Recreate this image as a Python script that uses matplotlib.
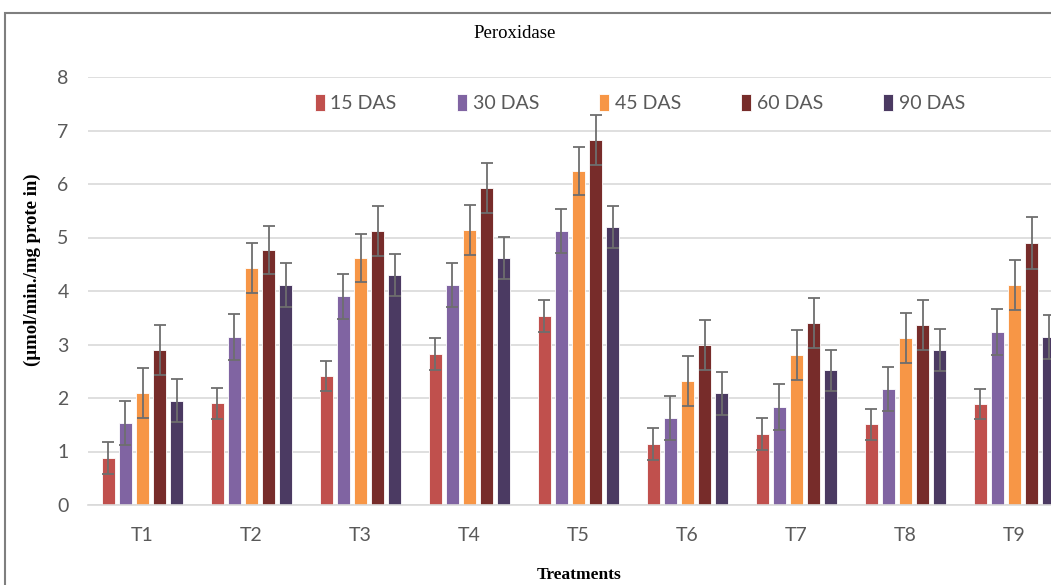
import numpy as np
import matplotlib.pyplot as plt
from matplotlib.patches import Rectangle

# data
treatments = ["T1", "T2", "T3", "T4", "T5", "T6", "T7", "T8", "T9"]
series = ["15 DAS", "30 DAS", "45 DAS", "60 DAS", "90 DAS"]
das15 = [0.88, 1.90, 2.41, 2.82, 3.53, 1.14, 1.33, 1.51, 1.89]
das30 = [1.53, 3.14, 3.90, 4.11, 5.12, 1.63, 1.83, 2.17, 3.23]
das45 = [2.10, 4.43, 4.62, 5.14, 6.24, 2.32, 2.80, 3.12, 4.11]
das60 = [2.90, 4.77, 5.12, 5.92, 6.82, 2.99, 3.40, 3.36, 4.90]
das90 = [1.95, 4.11, 4.30, 4.62, 5.20, 2.09, 2.52, 2.90, 3.14]
err15 = [0.30, 0.29, 0.28, 0.30, 0.30, 0.30, 0.30, 0.29, 0.28]
err30 = [0.41, 0.43, 0.42, 0.41, 0.41, 0.41, 0.43, 0.41, 0.43]
err45 = [0.47, 0.47, 0.45, 0.46, 0.45, 0.47, 0.47, 0.47, 0.47]
err60 = [0.47, 0.45, 0.47, 0.47, 0.47, 0.47, 0.47, 0.47, 0.48]
err90 = [0.40, 0.41, 0.39, 0.39, 0.39, 0.40, 0.38, 0.39, 0.41]

values = [das15, das30, das45, das60, das90]
errors = [err15, err30, err45, err60, err90]
colors = ["#C0504D", "#8064A2", "#F79646", "#772C2A", "#4B3A62"]

fig = plt.figure(figsize=(10.51, 5.85), dpi=100)
fig.patch.set_facecolor("white")

# chart frame (cropped Excel chart)
fig.patches.append(Rectangle((5 / 1051, -0.1), 1.2, 1 - 13 / 585 + 0.1,
                             transform=fig.transFigure, fill=False,
                             edgecolor="#7f7f7f", lw=1.5))

# plot area runs past the right edge, like the cropped original
ax = fig.add_axes([88 / 1051, 1 - 505 / 585, 981 / 1051, 428 / 585])

x = np.arange(len(treatments))
pitch = 0.156
width = 0.124
for i, (vals, errs, col, name) in enumerate(zip(values, errors, colors, series)):
    ax.bar(x + (i - 2) * pitch, vals, width, color=col, edgecolor="white",
           linewidth=0.6, label=name, zorder=2)
    ax.errorbar(x + (i - 2) * pitch, vals, yerr=errs, fmt="none",
                ecolor="#6e6e6e", elinewidth=1.3, capsize=4.3, capthick=1.3,
                zorder=3)

ax.set_xlim(-0.5, len(treatments) - 0.5)
ax.set_ylim(0, 8)
ax.set_yticks(range(0, 9))
ax.set_xticks(x)
ax.set_xticklabels(treatments)
ax.yaxis.grid(True, color="#D9D9D9", lw=1.2, zorder=0)
ax.set_axisbelow(True)
for s in ["top", "right", "left"]:
    ax.spines[s].set_visible(False)
ax.spines["bottom"].set_color("#D9D9D9")
ax.spines["bottom"].set_linewidth(1.2)
ax.tick_params(axis="both", length=0, labelsize=14, labelcolor="#595959")
ax.tick_params(axis="x", pad=16)
ax.tick_params(axis="y", pad=14)
for lab in ax.get_xticklabels() + ax.get_yticklabels():
    lab.set_family("Lato")

fig.text(515 / 1051, 1 - 33 / 585, "Peroxidase", ha="center", va="center",
         family="Liberation Serif", fontsize=13.5)
fig.text(32 / 1051, 1 - 270 / 585, "(µmol/min./mg prote in)", rotation=90,
         ha="center", va="center", family="Liberation Serif",
         fontweight="bold", fontsize=13.5)
fig.text(579 / 1051, 1 - 575 / 585, "Treatments", ha="center", va="center",
         family="Liberation Serif", fontweight="bold", fontsize=12.5)

leg = ax.legend(loc="center", bbox_to_anchor=(640 / 1051, 1 - 103 / 585),
                bbox_transform=fig.transFigure, ncol=5, frameon=False,
                handlelength=0.5, handleheight=0.95, handletextpad=0.3,
                columnspacing=3.1, prop={"family": "Lato", "size": 14})
for t in leg.get_texts():
    t.set_color("#595959")

fig.savefig("out.png", dpi=100)
